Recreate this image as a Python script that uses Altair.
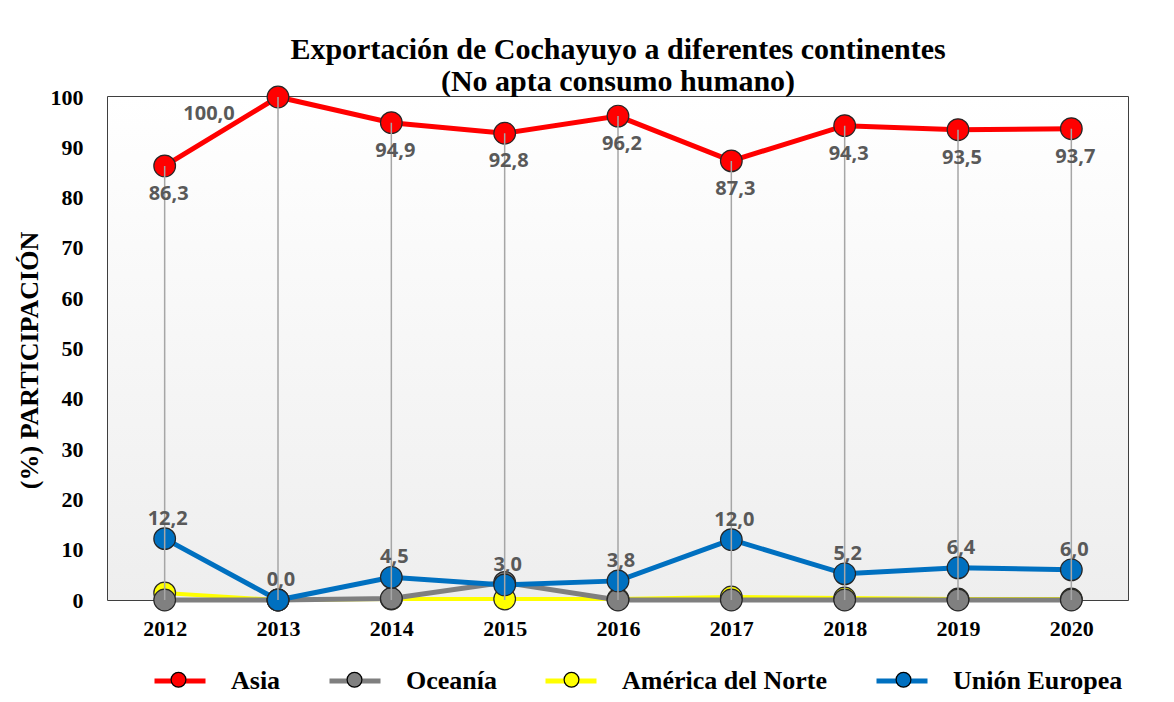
import altair as alt
import pandas as pd

years = [2012, 2013, 2014, 2015, 2016, 2017, 2018, 2019, 2020]
asia = [86.3, 100.0, 94.9, 92.8, 96.2, 87.3, 94.3, 93.5, 93.7]
oceania = [0.0, 0.0, 0.3, 3.5, 0.0, 0.0, 0.0, 0.0, 0.0]
america = [1.4, 0.0, 0.2, 0.2, 0.2, 0.6, 0.4, 0.2, 0.2]
ue = [12.2, 0.0, 4.5, 3.0, 3.8, 12.0, 5.2, 6.4, 6.0]

series_names = ["Asia", "Oceanía", "América del Norte", "Unión Europea"]
line_colors = ["#ff0000", "#7f7f7f", "#ffff00", "#0070c0"]
point_colors = ["#ff0000", "#808080", "#ffff00", "#0070c0"]
y_ticks = [0, 10, 20, 30, 40, 50, 60, 70, 80, 90, 100]
title_lines = ["Exportación de Cochayuyo a diferentes continentes", "(No apta consumo humano)"]
y_title = "(%) PARTICIPACIÓN"

draw_order = ["América del Norte", "Oceanía", "Unión Europea", "Asia"]

rows = []
for name, vals in zip(series_names, [asia, oceania, america, ue]):
    for yr, v in zip(years, vals):
        rows.append({"year": yr, "serie": name, "value": v, "z": draw_order.index(name),
                     "label": f"{v:.1f}".replace(".", ",")})
df = pd.DataFrame(rows)
drops = pd.DataFrame({"year": years, "asia": asia})

SERIF = "Liberation Serif"
SANS = "Open Sans"

x_enc = alt.X("year:O", scale=alt.Scale(type="point", padding=0.5),
              axis=alt.Axis(title=None, labelAngle=0, ticks=False, domain=False,
                            labelPadding=18, labelFont=SERIF, labelFontSize=22,
                            labelFontWeight="bold", labelColor="black"))
y_enc = alt.Y("value:Q", scale=alt.Scale(domain=[0, 100], nice=False, zero=True),
              axis=alt.Axis(values=y_ticks, grid=False, ticks=False, domain=False,
                            labelPadding=25, labelFont=SERIF, labelFontSize=22,
                            labelFontWeight="bold", labelColor="black",
                            title=y_title, titleFont=SERIF, titleFontSize=26,
                            titleFontWeight="bold", titleColor="black", titlePadding=8,
                            titleY=263))

common_legend = dict(orient="none", legendX=44, legendY=556, direction="horizontal",
                     title=None, labelFont=SERIF, labelFontSize=26, labelFontWeight="bold",
                     labelColor="black", symbolSize=2601, labelOffset=23, labelLimit=400)
line_legend = alt.Legend(symbolType="stroke", symbolStrokeWidth=5, columnPadding=38,
                         **common_legend)
circ_path = "M0.29,0A0.29,0.29,0,1,1,-0.29,0A0.29,0.29,0,1,1,0.29,0Z"
point_legend = alt.Legend(symbolType=circ_path, symbolStrokeWidth=1.2, columnPadding=50,
                          symbolStrokeColor="black", symbolOpacity=1, labelOpacity=0,
                          **common_legend)

color_enc = alt.Color("serie:N", scale=alt.Scale(domain=series_names, range=line_colors),
                      legend=line_legend)
fill_enc = alt.Fill("serie:N", sort=series_names, scale=alt.Scale(range=point_colors),
                    legend=point_legend)

base = alt.Chart(df)

bg = alt.Chart(pd.DataFrame({"a": [0]})).mark_rect(
    color=alt.Gradient(gradient="linear", x1=0, y1=0, x2=0, y2=1,
                       stops=[alt.GradientStop(color="#ffffff", offset=0),
                              alt.GradientStop(color="#eeeeee", offset=1)])
).encode(x=alt.value(0), x2=alt.value("width"), y=alt.value(0), y2=alt.value("height"))

widths = {"Asia": 5, "Oceanía": 5, "América del Norte": 4, "Unión Europea": 5}

lines = [base.transform_filter(alt.datum.serie == s).mark_line(strokeWidth=widths[s])
         .encode(x=x_enc, y=y_enc, color=color_enc) for s in draw_order]
points = base.mark_circle(size=470, opacity=1, stroke="#262626", strokeWidth=1.2).encode(
    x=x_enc, y=y_enc, fill=fill_enc, order=alt.Order("z:Q"))

rules = alt.Chart(drops).mark_rule(color="#a6a6a6", strokeWidth=1.5).encode(
    x=alt.X("year:O"), y=alt.Y("asia:Q"), y2=alt.datum(0))

txt_style = dict(font=SANS, fontSize=20, fontWeight="bold", color="#595959")
asia_txt = base.transform_filter((alt.datum.serie == "Asia") & (alt.datum.year != 2013)) \
    .mark_text(dy=28, dx=4, **txt_style).encode(x=x_enc, y=y_enc, text="label:N")
asia_top = base.transform_filter((alt.datum.serie == "Asia") & (alt.datum.year == 2013)) \
    .mark_text(dy=17, dx=-69, **txt_style).encode(x=x_enc, y=y_enc, text="label:N")
ue_txt = base.transform_filter(alt.datum.serie == "Unión Europea") \
    .mark_text(dy=-20, dx=3, **txt_style).encode(x=x_enc, y=y_enc, text="label:N")

chart = alt.layer(bg, *lines, points, rules, asia_txt, asia_top, ue_txt).properties(
    width=1020, height=503,
    autosize=alt.AutoSizeParams(type="none"),
    padding={"left": 100, "top": 89, "right": 30, "bottom": 94},
    title=alt.TitleParams(title_lines, font=SERIF, fontSize=30, fontWeight="bold",
                          color="black", anchor="middle", offset=-13, lineHeight=32),
    background="white",
).configure_view(stroke="black", strokeWidth=1.5)

chart.save("out.html", embed_options={"renderer": "svg", "actions": False})
